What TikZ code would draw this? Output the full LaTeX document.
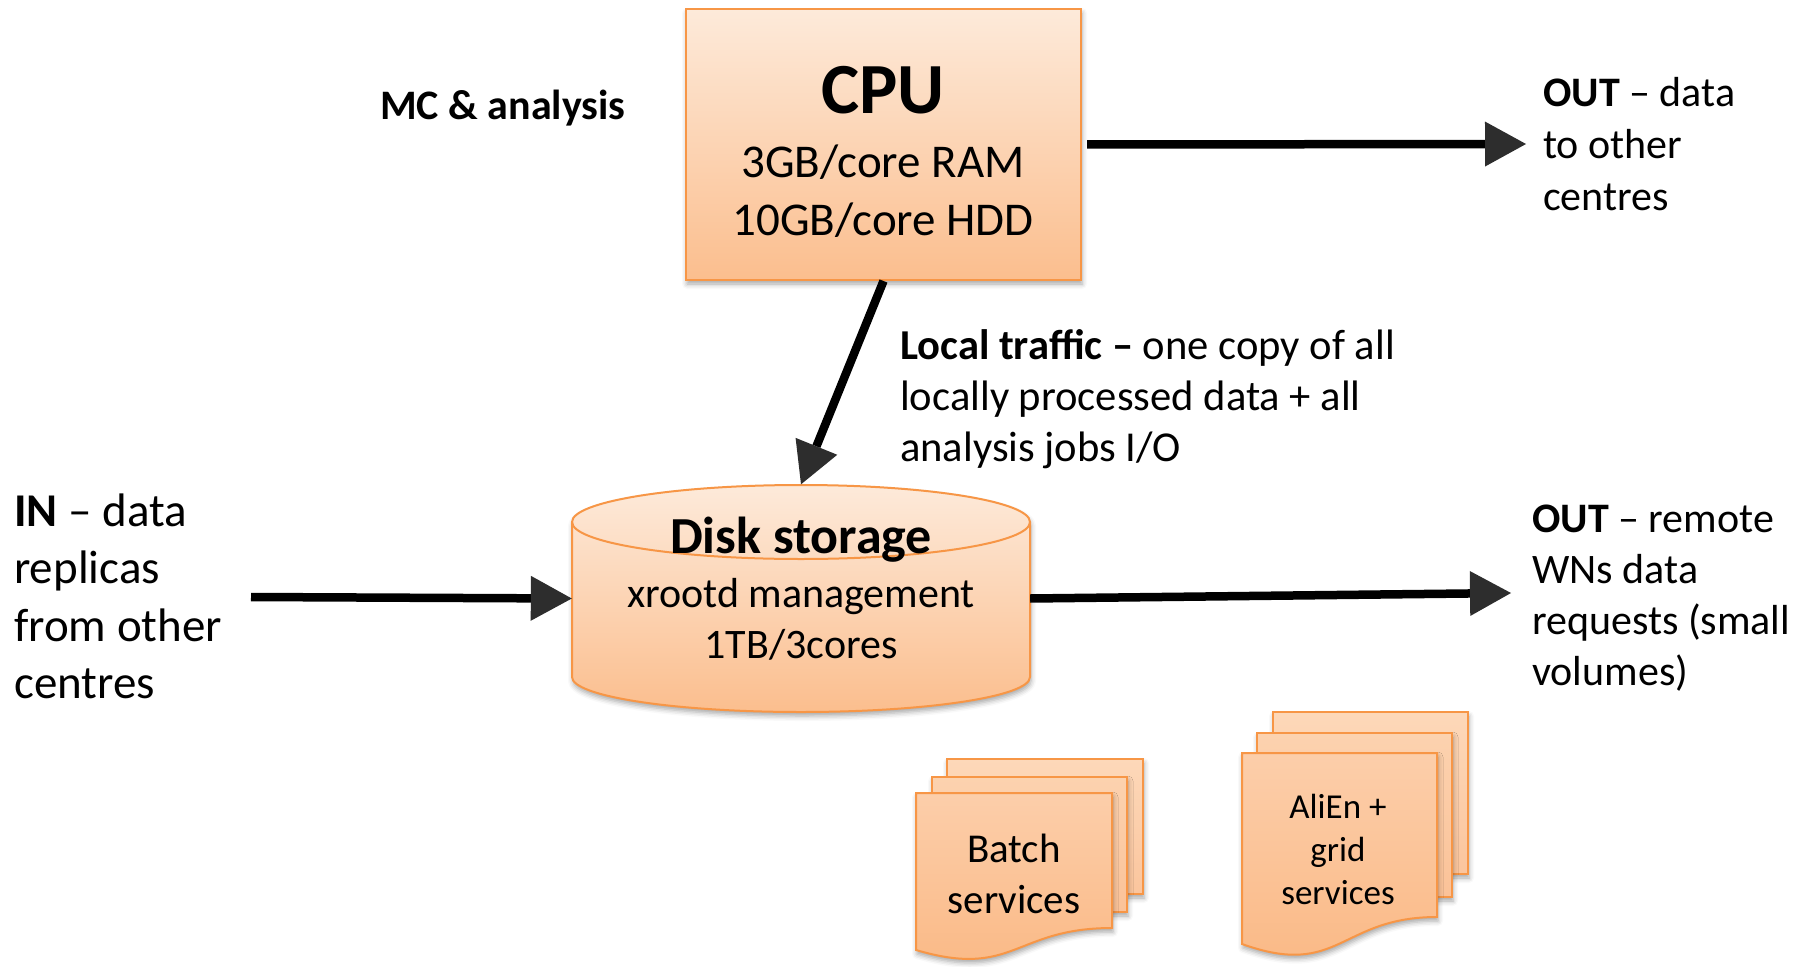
\documentclass[tikz,border=0pt]{standalone}
\usepackage{fontspec}
\setmainfont{Carlito}
\usetikzlibrary{arrows.meta,shadows.blur}
\definecolor{orangeline}{RGB}{247,150,70}
\definecolor{boxtop}{RGB}{253,234,218}
\definecolor{boxbot}{RGB}{251,190,142}
\definecolor{backtop}{RGB}{253,216,185}
\definecolor{backbot}{RGB}{251,197,157}
\definecolor{midtop}{RGB}{252,210,175}
\definecolor{midbot}{RGB}{251,194,152}
\definecolor{fronttop}{RGB}{252,206,170}
\definecolor{frontbot}{RGB}{250,184,132}
\begin{document}
\begin{tikzpicture}[x=1pt,y=-1pt,
  arr/.style={line width=8.5pt,-{Triangle[length=41pt,width=45pt,line width=0pt]}},
  softshadow/.style={blur shadow={shadow xshift=1pt,shadow yshift=-4pt,shadow blur radius=5pt,shadow opacity=35}},
  cpubox/.style={draw=orangeline,line width=2pt,top color=boxtop,bottom color=boxbot,softshadow,inner sep=0pt},
  diskfill/.style={draw=orangeline,line width=2pt,top color=boxtop,bottom color=boxbot,softshadow},
  backpage/.style={draw=orangeline,line width=2pt,top color=backtop,bottom color=backbot,softshadow},
  midpage/.style={draw=orangeline,line width=2pt,top color=midtop,bottom color=midbot,softshadow},
  frontpage/.style={draw=orangeline,line width=2pt,top color=fronttop,bottom color=frontbot,softshadow},
  txt/.style={align=left,inner sep=0pt,anchor=base west},
  ctxt/.style={align=center,inner sep=0pt,anchor=base},
]
\useasboundingbox (0,0) rectangle (1806,966);

% CPU box
\node[cpubox,minimum width=395pt,minimum height=271pt] (cpu) at (883.5,144.5) {};
\node[ctxt,font=\fontsize{72}{72}\selectfont\bfseries] (cputitle) at (883,113) {CPU};
% multi-line nodes: base anchor is the baseline of the last line
\node[ctxt,font=\fontsize{47}{58}\selectfont] (cpuspec) at (883,235) {3GB/core RAM\\10GB/core HDD};

% Disk storage cylinder
\path[diskfill] (572,522) -- (572,677) arc[start angle=180,end angle=0,x radius=229,y radius=35]
  -- (1030,522) arc[start angle=0,end angle=-180,x radius=229,y radius=37] -- cycle;
\draw[orangeline,line width=2pt] (572,522) arc[start angle=180,end angle=0,x radius=229,y radius=37];
\node[minimum width=458pt,minimum height=228pt,inner sep=0pt] (disk) at (801,598.5) {};
\node[ctxt,font=\fontsize{52}{52}\selectfont\bfseries] (disktitle) at (801,553) {Disk storage};
\node[ctxt,font=\fontsize{42}{51}\selectfont] (diskspec) at (801,658) {xrootd management\\1TB/3cores};

% Batch services stack
\path[backpage] (947,759) rectangle (1143,894);
\path[midpage] (932,777) rectangle (1127,912);
\path[frontpage] (916,793) -- (1112,793) -- (1112,928) .. controls (1014,928) and (1014,979) .. (916,950) -- cycle;
\node[ctxt,font=\fontsize{41}{51}\selectfont] (batch) at (1014,913) {Batch\\services};

% AliEn stack
\path[backpage] (1273,712) rectangle (1468,874);
\path[midpage] (1257,733) rectangle (1452,897);
\path[frontpage] (1242,753) -- (1437,753) -- (1437,917) .. controls (1339.5,917) and (1339.5,979) .. (1242,944) -- cycle;
\node[ctxt,font=\fontsize{35}{43}\selectfont] (alien) at (1338,904) {AliEn +\\grid\\services};

% Texts
\node[txt,font=\fontsize{42}{52}\selectfont] (mc) at (380,119) {\textbf{MC \& analysis}};
\node[txt,font=\fontsize{42}{52}\selectfont] (outAtxt) at (1543,210) {\textbf{OUT} – data\\to other\\centres};
\node[txt,font=\fontsize{42.6}{51}\selectfont] (localtxt) at (900,461) {\textbf{Local traffic –} one copy of all\\locally processed data + all\\analysis jobs I/O};
\node[txt,font=\fontsize{47}{57.5}\selectfont] (intxt) at (14,698.5) {\textbf{IN} – data\\replicas\\from other\\centres};
\node[txt,font=\fontsize{42}{51}\selectfont] (outBtxt) at (1532,685) {\textbf{OUT} – remote\\WNs data\\requests (small\\volumes)};

% Connectors
\coordinate (outAend) at (1526,144);
\coordinate (inStart) at (251,597);
\coordinate (outBend) at (1511,593);
\draw[arr,shorten <=5pt] (cpu.east) -- (outAend);
\draw[arr] (cpu.south) -- (disk.north);
\draw[arr] (inStart) -- (disk.west);
\draw[arr] (disk.east) -- (outBend);
\end{tikzpicture}
\end{document}
